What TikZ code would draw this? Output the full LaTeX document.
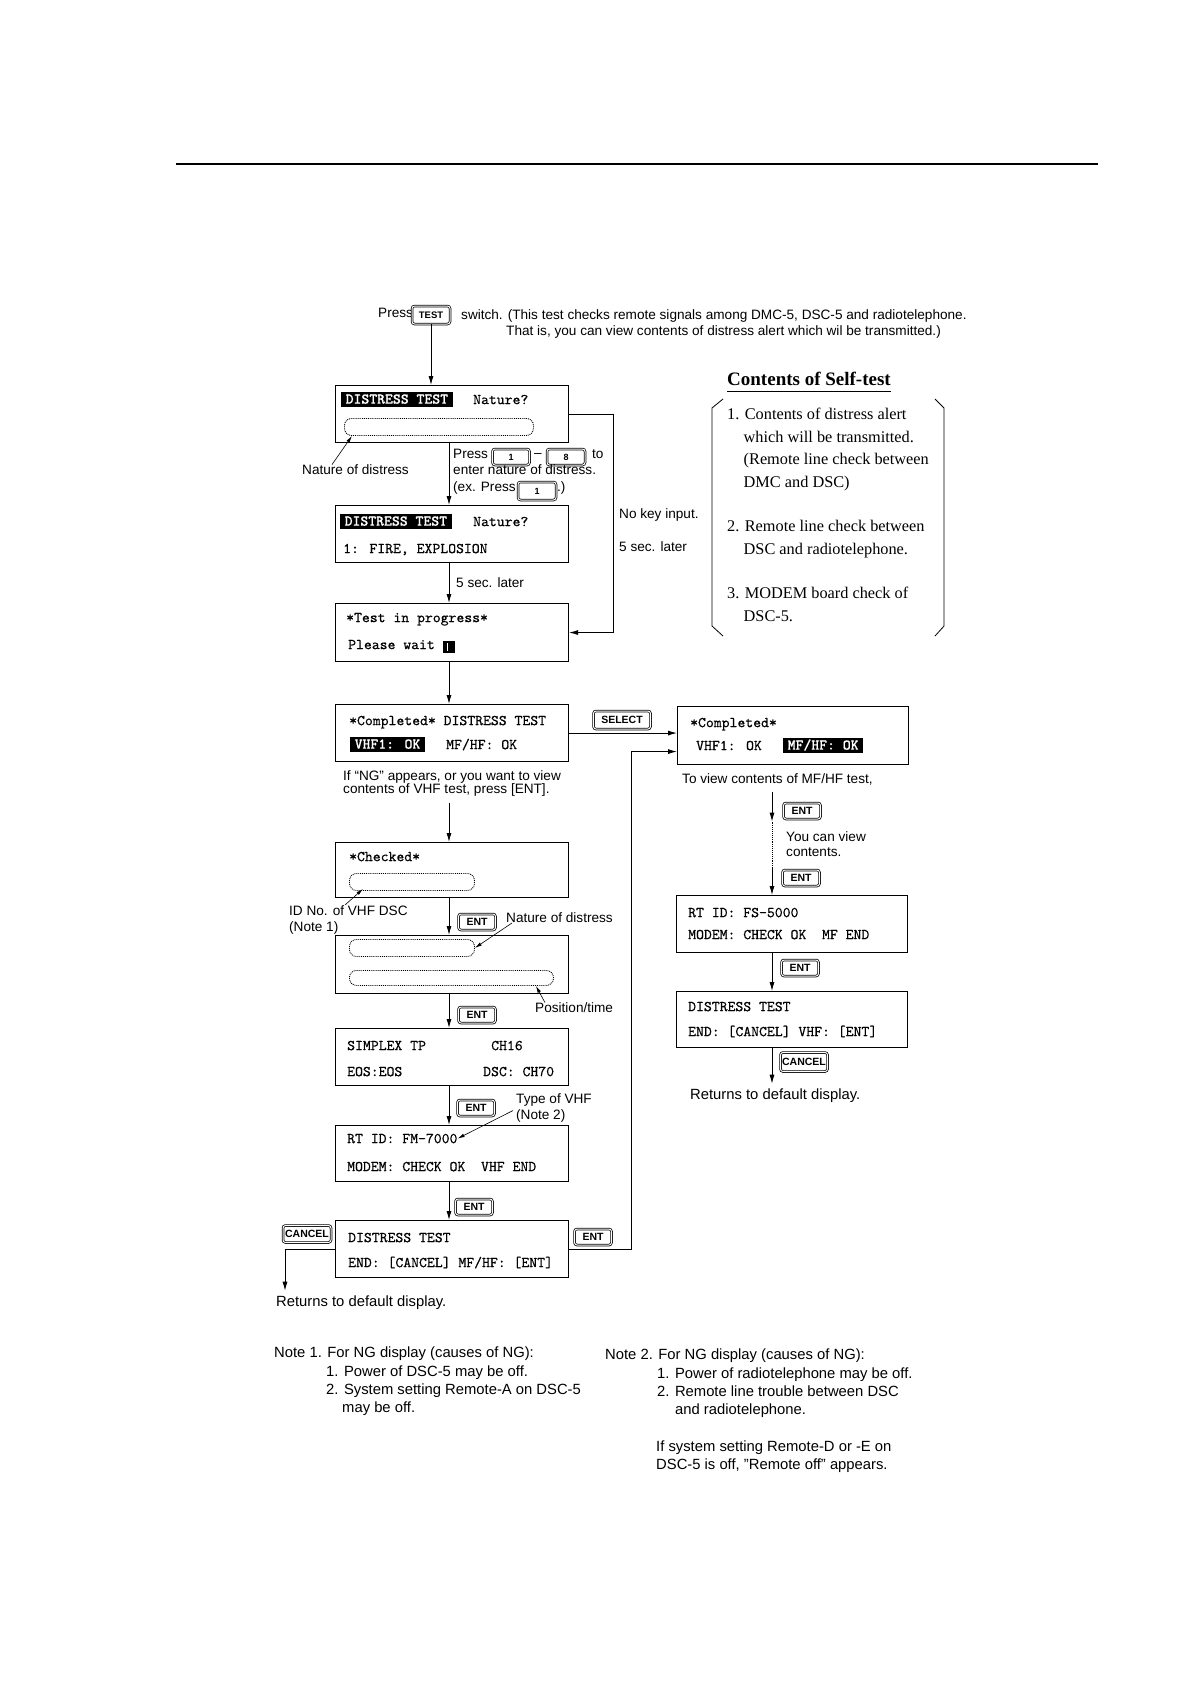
\documentclass[tikz,border=0pt]{standalone}
\usepackage{fontspec}
\setmainfont{Liberation Sans}
\newfontfamily\panelfont{Liberation Serif}
\newfontfamily\lcdfont{lmmono10-regular.otf}[FakeBold=0.4]
\newfontfamily\lcdboldfont{lmmonolt10-bold.otf}[FakeBold=0.4]
\usetikzlibrary{arrows.meta}

\begin{document}
\begin{tikzpicture}[x=1pt, y=-1pt,
            every node/.style={inner sep=0pt, font=\fontsize{13.6}{18.3}\selectfont},
            remark/.style={anchor=mid west},
            bigremark/.style={anchor=mid west, font=\fontsize{14.8}{18.3}\selectfont},
            lcd/.style={draw, line width=1.1pt, minimum width=233pt, minimum height=57pt, anchor=north west},
            lcdline/.style={anchor=mid west, yshift=-2.5pt, font=\fontsize{15}{18}\selectfont\lcdfont},
            inverse/.style={anchor=mid west, yshift=-2pt, fill=black, text=white, inner xsep=4.5pt, minimum height=15pt,
                font=\fontsize{15}{18}\selectfont\lcdboldfont},
            field/.style={draw, densely dotted, line width=0.9pt, rounded corners=7pt, minimum height=17pt, anchor=north west},
            keycap/.style={draw, double, double distance=1pt, line width=0.75pt, rounded corners=2.5pt,
                minimum width=37pt, minimum height=16pt, font=\fontsize{10.5}{12}\selectfont\bfseries},
            flow/.style={-{Latex[length=9pt,width=5pt]}, line width=0.9pt},
            pointer/.style={-{Latex[length=7pt,width=3.5pt]}, line width=0.6pt}]
        \useasboundingbox (0,0) rectangle (1190,1684);
        \fill[white] (0,0) rectangle (1190,1684);
        \draw[line width=1.3pt] (176,164) -- (1098,164);

        \node[remark] (presstxt) at (378,315) {Press};
        \node[keycap, minimum width=38pt, minimum height=18pt, font=\fontsize{9.5}{11}\selectfont\bfseries] (testkey) at (431,315) {TEST};
        \node[remark] (switchtxt) at (461,317) {switch. (This test checks remote signals among DMC-5, DSC-5 and radiotelephone.};
        \node[remark] (thatistxt) at (506,333) {That is, you can view contents of distress alert which wil be transmitted.)};

        \node[lcd] (selnat) at (335,385) {};
        \node[inverse] (selnathi) at (341,399) {DISTRESS TEST};
        \node[lcdline] (selnatq) at (473,399) {Nature?};
        \node[field, minimum width=189pt] (natfield) at (344,418) {};
        \node[remark] (natlabel) at (302,472) {Nature of distress};

        \node[remark] (presskeys) at (453,456) {Press};
        \node[keycap, font=\fontsize{9}{10}\selectfont\bfseries] (keyone) at (511,457) {1};
        \node (keydash) at (538,456) {–};
        \node[keycap, minimum width=38pt, font=\fontsize{9}{10}\selectfont\bfseries] (keyeight) at (566,457) {8};
        \node[remark] (totxt) at (592,456) {to};
        \node[remark] (entertxt) at (453,472) {enter nature of distress.};
        \node[remark] (extxt) at (453,489) {(ex. Press};
        \node[keycap, minimum width=38pt, minimum height=18pt, font=\fontsize{9}{10}\selectfont\bfseries] (keyonex) at (537,491) {1};
        \node[remark] (extend) at (557,489) {.)};

        \node[lcd] (firesel) at (335,505) {};
        \node[inverse] (fireselhi) at (340,521) {DISTRESS TEST};
        \node[lcdline] (fireselq) at (473,521) {Nature?};
        \node[lcdline] (fireseltxt) at (343,548) {1: FIRE, EXPLOSION};

        \node[remark] (nokey) at (619,516) {No key input.};
        \node[remark] (latertwo) at (619,549) {5 sec. later};
        \node[remark] (laterone) at (456,585) {5 sec. later};

        \node[lcd, minimum height=58pt] (inprog) at (335,603) {};
        \node[lcdline] (inprogtop) at (346,617) {*Test in progress*};
        \node[lcdline] (inprogwait) at (348,644) {Please wait};
        \node[fill=black, minimum width=12pt, minimum height=12pt, anchor=north west] (cursor) at (443,641) {};
        \draw[white, line width=1.4pt] (cursor.north) ++(-2,2) -- ++(0,8);

        \node[lcd] (complete) at (335,704) {};
        \node[lcdline] (completetop) at (349,720) {*Completed* DISTRESS TEST};
        \node[inverse] (completevhf) at (350,744) {VHF1: OK};
        \node[lcdline] (completemfhf) at (446,744) {MF/HF: OK};
        \node[remark, anchor=north west, align=left, font=\fontsize{13.6}{13.5}\selectfont] (ngnote) at (343,770) {If “NG” appears, or you want to view\\contents of VHF test, press [ENT].};

        \node[lcd, minimum height=55pt] (checked) at (335,842) {};
        \node[lcdline] (checkedtop) at (349,856) {*Checked*};
        \node[field, minimum width=125pt] (idfield) at (349,873) {};
        \node[remark, anchor=north west, align=left, font=\fontsize{13.6}{16}\selectfont] (idlabel) at (289,905) {ID No. of VHF DSC\\(Note 1)};
        \node[keycap] (entone) at (477,922) {ENT};
        \node[remark] (natlabelb) at (506,920) {Nature of distress};

        \node[lcd, minimum height=58pt] (natpos) at (335,935) {};
        \node[field, minimum width=125pt] (natfielda) at (349,939) {};
        \node[field, minimum width=204pt, minimum height=15pt] (posfield) at (349,970) {};
        \node[keycap] (enttwo) at (477,1015) {ENT};
        \node[remark] (poslabel) at (535,1010) {Position/time};

        \node[lcd] (simplex) at (335,1028) {};
        \node[lcdline] (simplexa) at (347,1045) {SIMPLEX TP};
        \node[lcdline] (simplexb) at (491,1045) {CH16};
        \node[lcdline] (simplexc) at (347,1071) {EOS:EOS};
        \node[lcdline] (simplexd) at (483,1071) {DSC: CH70};
        \node[keycap] (entthree) at (476,1108) {ENT};
        \node[remark, anchor=north west, align=left, font=\fontsize{13.6}{16}\selectfont] (vhflabel) at (516,1093) {Type of VHF\\(Note 2)};

        \node[lcd, minimum height=56pt] (rtvhf) at (335,1125) {};
        \node[lcdline] (rtvhftop) at (347,1138) {RT ID: FM-7000};
        \node[lcdline] (rtvhfbot) at (347,1166) {MODEM: CHECK OK\ \ VHF END};
        \node[keycap] (entfour) at (474,1207) {ENT};

        \node[lcd] (endvhf) at (335,1220) {};
        \node[lcdline] (endvhftop) at (348,1237) {DISTRESS TEST};
        \node[lcdline] (endvhfbot) at (348,1262) {END: [CANCEL] MF/HF: [ENT]};
        \node[keycap, minimum width=48pt, minimum height=17pt] (cancelvhf) at (307,1234) {CANCEL};
        \node[keycap] (entmf) at (593,1237) {ENT};
        \coordinate (retcol) at (285,0);
        \coordinate (vhfcol) at (449,0);
        \node[bigremark, inner ysep=5pt] (vhfreturn) at (276,1304) {Returns to default display.};

        \node[keycap, minimum width=57pt, minimum height=18pt] (selectkey) at (622,720) {SELECT};
        \node[lcd, minimum width=231pt, minimum height=58pt] (completemf) at (677,706) {};
        \node[lcdline] (completemftop) at (690,722) {*Completed*};
        \node[lcdline] (completemfvhf) at (696,745) {VHF1: OK};
        \node[inverse] (completemfhi) at (783,745) {MF/HF: OK};
        \node[remark] (mfnote) at (682,781) {To view contents of MF/HF test,};
        \coordinate (mfcol) at (772,0);
        \node[keycap] (entfive) at (802,811) {ENT};
        \node[remark, anchor=north west, align=left, font=\fontsize{13.6}{15}\selectfont] (viewtxt) at (786,831) {You can view\\contents.};
        \node[keycap] (entsix) at (801,878) {ENT};

        \node[lcd, minimum width=231pt] (rtmf) at (676,895) {};
        \node[lcdline] (rtmftop) at (688,912) {RT ID: FS-5000};
        \node[lcdline] (rtmfbot) at (688,934) {MODEM: CHECK OK\ \ MF END};
        \node[keycap] (entseven) at (800,968) {ENT};

        \node[lcd, minimum width=231pt, minimum height=56pt] (endmf) at (676,991) {};
        \node[lcdline] (endmftop) at (688,1006) {DISTRESS TEST};
        \node[lcdline] (endmfbot) at (688,1031) {END: [CANCEL] VHF: [ENT]};
        \node[keycap, minimum width=47pt, minimum height=19pt] (cancelmf) at (804,1062) {CANCEL};
        \node[bigremark, inner ysep=5pt] (mfreturn) at (690,1097) {Returns to default display.};

        \node[anchor=mid west, font=\fontsize{19}{21}\selectfont\panelfont\bfseries] (paneltitle) at (727,383) {Contents of Self-test};
        \draw[line width=0.9pt] ([yshift=-5pt]paneltitle.south west) -- ([yshift=-5pt]paneltitle.south east);
        \node[anchor=north west, align=left, font=\fontsize{16.3}{22.5}\selectfont\panelfont] (panelbody) at (727,408) {1. Contents of distress alert\\
            \hspace*{16.5pt}which will be transmitted.\\
            \hspace*{16.5pt}(Remote line check between\\
            \hspace*{16.5pt}DMC and DSC)\\[22pt]
            2. Remote line check between\\
            \hspace*{16.5pt}DSC and radiotelephone.\\[22pt]
            3. MODEM board check of\\
            \hspace*{16.5pt}DSC-5.};
        \draw[line width=0.8pt] (723,399) -- (712,408) -- (712,626) -- (723,636);
        \draw[line width=0.8pt] (935,399) -- (944,408) -- (944,626) -- (935,636);

        \node[anchor=north west, align=left, font=\fontsize{14.8}{18.3}\selectfont] (noteone) at (274,1347) {Note 1. For NG display (causes of NG):\\
            \hspace*{52pt}1. Power of DSC-5 may be off.\\
            \hspace*{52pt}2. System setting Remote-A on DSC-5\\
            \hspace*{68pt}may be off.};
        \node[anchor=north west, align=left, font=\fontsize{14.8}{18.3}\selectfont] (notetwo) at (605,1349) {Note 2. For NG display (causes of NG):\\
            \hspace*{52pt}1. Power of radiotelephone may be off.\\
            \hspace*{52pt}2. Remote line trouble between DSC\\
            \hspace*{70pt}and radiotelephone.\\[18.3pt]
            \hspace*{51pt}If system setting Remote-D or -E on\\
            \hspace*{51pt}DSC-5 is off, "Remote off" appears.};

        \draw[flow] (testkey.south) -- (testkey.south |- selnat.north);
        \draw[pointer] (natlabel.north west) ++(30,0) -- ([xshift=8pt]natfield.south west);
        \draw[flow] (vhfcol |- selnat.south) -- (vhfcol |- firesel.north);
        \draw[flow] (selnat.east) -- ++(44,0) |- (inprog.east);
        \draw[flow] (vhfcol |- firesel.south) -- (vhfcol |- inprog.north);
        \draw[flow] (vhfcol |- inprog.south) -- (vhfcol |- complete.north);
        \draw[flow] (complete.east) -- (complete.east -| completemf.west);
        \draw[flow] (ngnote.south -| vhfcol) ++(0,6) -- (vhfcol |- checked.north);
        \draw[pointer] (idlabel.north west) ++(56,0) -- ([xshift=14pt,yshift=2pt]idfield.south west);
        \draw[flow] (vhfcol |- checked.south) -- (vhfcol |- natpos.north);
        \draw[pointer] (natlabelb.south west) ++(6,0) -- (natfielda.east);
        \draw[pointer] (poslabel.north west) ++(10,0) -- ([xshift=-18pt]posfield.south east);
        \draw[flow] (vhfcol |- natpos.south) -- (vhfcol |- simplex.north);
        \draw[flow] (vhfcol |- simplex.south) -- (vhfcol |- rtvhf.north);
        \draw[pointer] (vhflabel.west) ++(-3,3) -- (rtvhftop.east);
        \draw[flow] (vhfcol |- rtvhf.south) -- (vhfcol |- endvhf.north);
        \draw[flow] (endvhf.west) -| (retcol |- vhfreturn.north);
        \draw[flow] (endvhf.east) -- ++(62,0) |- ([yshift=-16pt]completemf.west);
        \draw[flow] (mfcol |- mfnote.south) ++(0,6) -- ++(0,30) coordinate (viewgap);
        \draw[line width=0.9pt, densely dotted] (viewgap) -- ++(0,45) coordinate (viewend);
        \draw[flow] (viewend) -- (mfcol |- rtmf.north);
        \draw[flow] (mfcol |- rtmf.south) -- (mfcol |- endmf.north);
        \draw[flow] (mfcol |- endmf.south) -- (mfcol |- mfreturn.north);
\end{tikzpicture}
\end{document}
